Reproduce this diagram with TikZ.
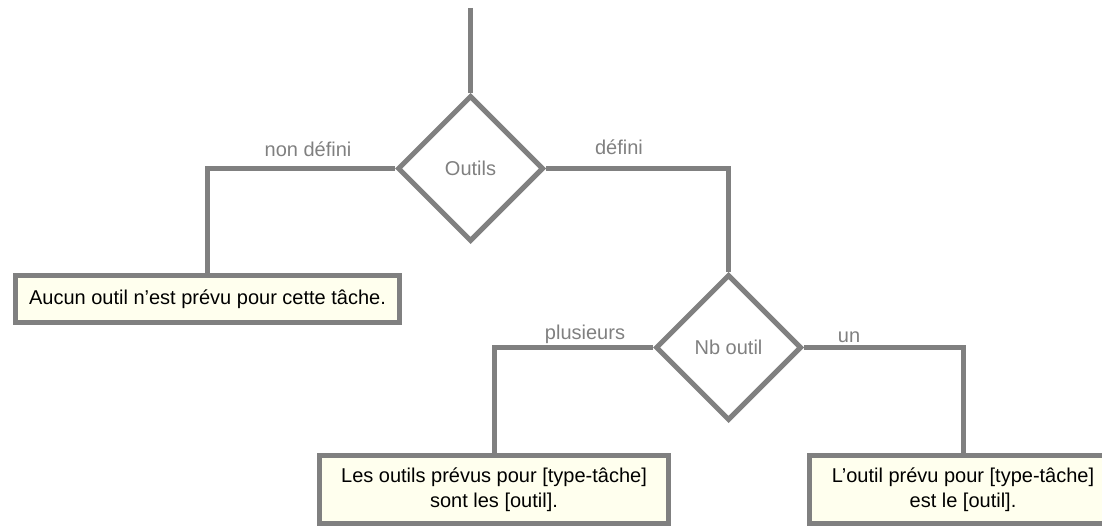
\documentclass[tikz,border=0pt]{standalone}
\usepackage{fontspec}
\setmainfont{Liberation Sans}
\usetikzlibrary{shapes.geometric}
\definecolor{linegray}{HTML}{808080}
\definecolor{labelgray}{HTML}{808080}
\definecolor{boxfill}{HTML}{FFFFEE}
\begin{document}
\begin{tikzpicture}[x=1pt,y=-1pt,
  conn/.style={draw=linegray, line width=5pt},
  decision/.style={diamond, draw=linegray, line width=5pt, fill=white,
    minimum width=146pt, minimum height=146pt, inner sep=0pt,
    text=labelgray, font=\fontsize{20}{24}\selectfont},
  msgbox/.style={rectangle, draw=linegray, line width=5pt, fill=boxfill,
    inner sep=0pt, align=center, text=black, font=\fontsize{20}{25}\selectfont},
  lbl/.style={text=labelgray, inner sep=0pt, font=\fontsize{20}{24}\selectfont}]
\useasboundingbox (0,0) rectangle (1102,527);
\clip (0,0) rectangle (1102,527);

\coordinate (start) at (470.5,8);
\node[decision] (outils) at (470.5,168.5) {Outils};
\node[decision] (nb) at (728.5,347.5) {Nb outil};
\node[msgbox, minimum width=384pt, minimum height=47pt] (aucun) at (207.5,299) {Aucun outil n’est prévu pour cette tâche.};
\node[msgbox, minimum width=349pt, minimum height=68pt] (plus) at (494,489.5) {Les outils prévus pour [type-tâche]\\sont les [outil].};
\node[msgbox, minimum width=307pt, minimum height=68pt] (un) at (963,489.5) {L’outil prévu pour [type-tâche]\\est le [outil].};

\draw[conn] (start) -- (outils.north);
\draw[conn] (outils.west) -| (aucun.north);
\draw[conn] (outils.east) -| (nb.north);
\draw[conn] (nb.west) -| (plus.north);
\draw[conn] (nb.east) -| (un.north);

\node[lbl] (l1) at (308,149) {non défini};
\node[lbl] (l2) at (619,147) {défini};
\node[lbl] (l3) at (585,334) {plusieurs};
\node[lbl] (l4) at (849,337) {un};
\end{tikzpicture}
\end{document}
